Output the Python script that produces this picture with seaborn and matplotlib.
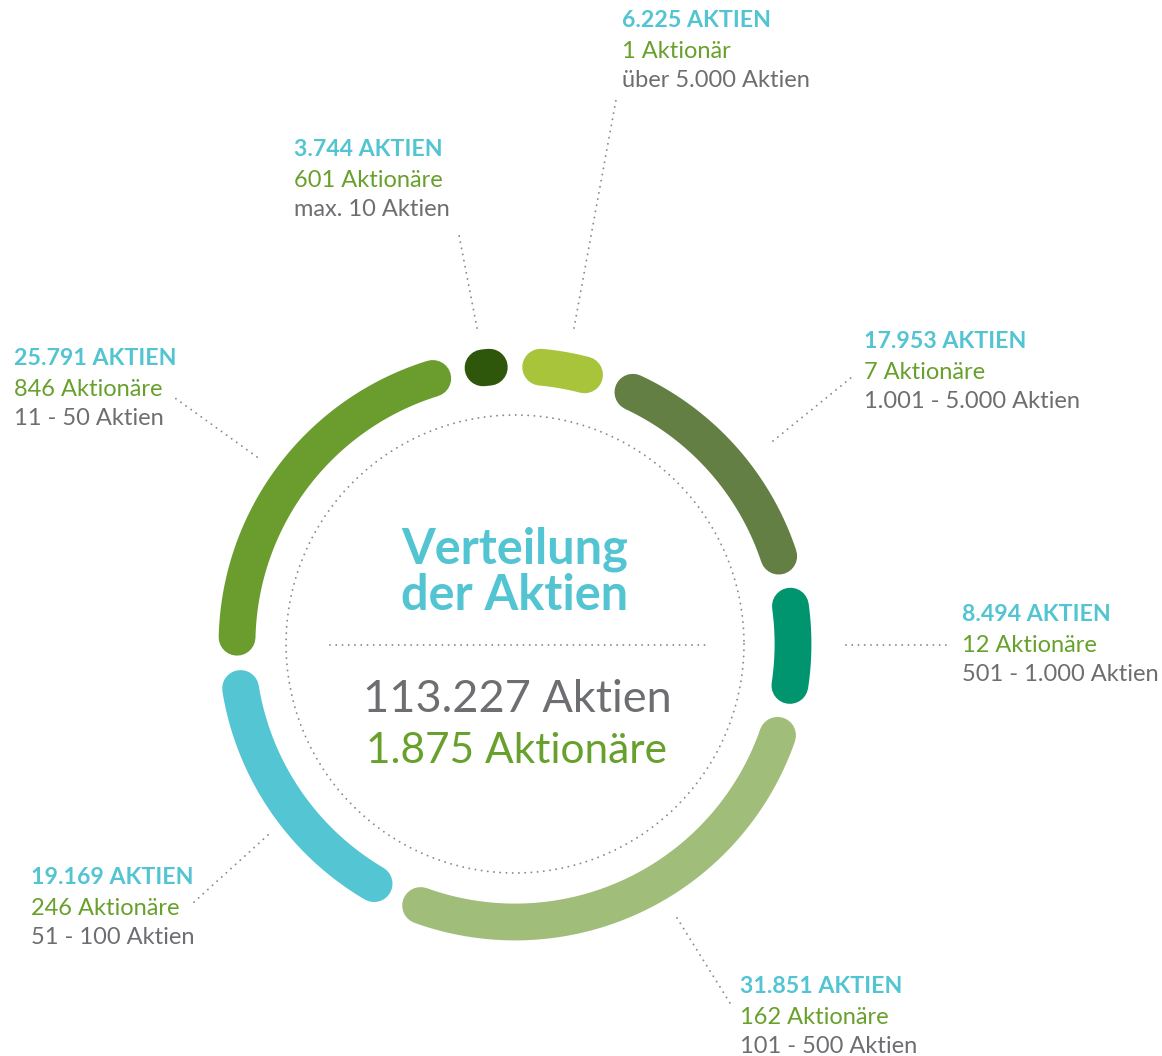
import numpy as np
import pandas as pd
import matplotlib.pyplot as plt
import seaborn as sns

# Daten (im Uhrzeigersinn ab 12 Uhr)
gruppen = ["über 5.000 Aktien", "1.001 - 5.000 Aktien", "501 - 1.000 Aktien",
           "101 - 500 Aktien", "51 - 100 Aktien", "11 - 50 Aktien", "max. 10 Aktien"]
aktien = [6225, 17953, 8494, 31851, 19169, 25791, 3744]
aktionaere = [1, 7, 12, 162, 246, 846, 601]
farben = ["#a8c43a", "#647f43", "#00956e", "#a0bd7a", "#53c5d3", "#6b9d2e", "#2e570b"]

# Layout in Pixeln
label_x = [622, 864, 962, 740, 31, 14, 294]
label_y = [27, 348, 621, 993, 884, 365, 156]
leader = [((574, 328), (616, 100)), ((773, 441), (852, 377)), ((846, 645), (948, 645)),
          ((677, 918), (730, 1003)), ((268, 835), (193, 903)), ((257, 457), (175, 398)),
          ((477, 328), (458, 230))]
cx, cy, r, r_inner = 515, 644, 278, 229
trim = 5.3  # Grad, Lücke an jedem Ende

CYAN = "#52c4d2"
GRUEN = "#68a02c"
GRAU = "#6d6e71"
PUNKT = "#8a8a8a"


def de(n):
    return f"{n:,}".replace(",", ".")


sns.set_style("white")
plt.rcParams['font.family'] = ['Lato', 'DejaVu Sans']

fig = plt.figure(figsize=(11.62, 10.56), dpi=100)
ax = fig.add_axes([0, 0, 1, 1])

# Ringsegmente
total = sum(aktien)
grenzen = np.concatenate([[0], np.cumsum(aktien)]) / total * 360
rows = []
for name, a0, a1 in zip(gruppen, grenzen[:-1], grenzen[1:]):
    t = np.radians(np.linspace(a0 + trim, a1 - trim, 80))
    for ti in t:
        rows.append({"x": cx + r * np.sin(ti), "y": cy - r * np.cos(ti), "seg": name})
df = pd.DataFrame(rows)
sns.lineplot(data=df, x="x", y="y", hue="seg", hue_order=gruppen,
             palette=dict(zip(gruppen, farben)), sort=False, estimator=None,
             linewidth=26.5, solid_capstyle="round", legend=False, ax=ax)

# gepunkteter Innenkreis und Trennlinie
dot = dict(color=PUNKT, linewidth=1.4, linestyle=(0, (0.01, 3.2)), dash_capstyle="round")
t = np.linspace(0, 2 * np.pi, 400)
ax.plot(cx + r_inner * np.cos(t), cy + r_inner * np.sin(t), **dot)
ax.plot([330, 710], [645, 645], **dot)

# Beschriftungen
for i in range(len(aktien)):
    (x0, y0), (x1, y1) = leader[i]
    ax.plot([x0, x1], [y0, y1], **dot)
    lx, ly = label_x[i], label_y[i]
    ax.text(lx, ly, f"{de(aktien[i])} AKTIEN", color=CYAN, fontsize=16.7,
            fontweight="bold", va="baseline", ha="left")
    txt = "1 Aktionär" if aktionaere[i] == 1 else f"{de(aktionaere[i])} Aktionäre"
    ax.text(lx, ly + 31, txt, color=GRUEN, fontsize=17, va="baseline", ha="left")
    ax.text(lx, ly + 60, gruppen[i], color=GRAU, fontsize=17, va="baseline", ha="left")

# Mitte
ax.text(cx, 563, "Verteilung", color=CYAN, fontsize=35, fontweight="bold",
        ha="center", va="baseline")
ax.text(cx, 610, "der Aktien", color=CYAN, fontsize=35, fontweight="bold",
        ha="center", va="baseline")
ax.text(cx + 2, 712, f"{de(total)} Aktien", color=GRAU, fontsize=32.5,
        ha="center", va="baseline")
ax.text(cx + 2, 763, f"{de(sum(aktionaere))} Aktionäre", color=GRUEN, fontsize=30.5,
        ha="center", va="baseline")

ax.set_xlim(0, 1162)
ax.set_ylim(1056, 0)
ax.set_aspect("equal")
ax.axis("off")

fig.savefig("out.png", dpi=100)
